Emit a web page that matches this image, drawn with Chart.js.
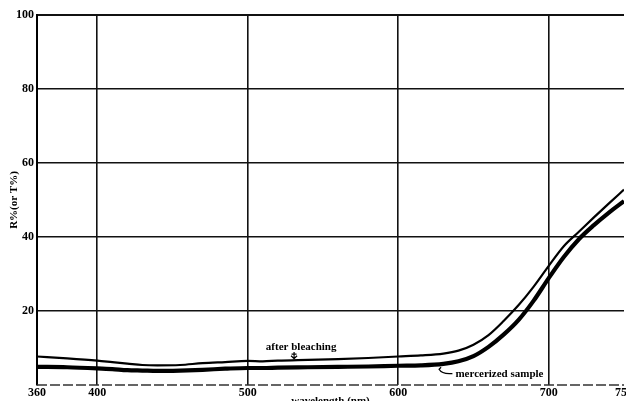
<!DOCTYPE html>
<html>
<head>
<meta charset="utf-8">
<script src="https://cdn.jsdelivr.net/npm/chart.js@4.4.1/dist/chart.umd.min.js"></script>
<style>
  html, body { margin: 0; padding: 0; background: #fff; overflow: hidden; width: 626px; height: 401px; }
  canvas { display: block; }
</style>
</head>
<body>
<canvas id="c" width="650" height="410"></canvas>
<script>
// Spectral curves, R% (or T%) against wavelength in nm
const wavelengths = [360, 380, 400, 410, 420, 430, 440, 455, 470, 485, 500, 510, 520, 540, 560, 580, 600, 615, 630, 640, 650, 660, 670, 680, 690, 700, 710, 720, 730, 740, 750];
const afterBleaching = [7.7, 7.2, 6.6, 6.2, 5.8, 5.4, 5.3, 5.4, 5.9, 6.2, 6.5, 6.4, 6.6, 6.8, 7.0, 7.3, 7.7, 8.0, 8.5, 9.3, 10.9, 13.5, 17.3, 21.6, 26.6, 32.2, 37.5, 41.4, 45.3, 49.1, 52.8];
const mercerized = [4.9, 4.8, 4.5, 4.3, 4.0, 3.9, 3.8, 3.9, 4.1, 4.4, 4.6, 4.6, 4.7, 4.8, 4.9, 5.0, 5.2, 5.3, 5.7, 6.4, 7.8, 10.3, 13.6, 17.6, 22.8, 28.9, 34.6, 39.4, 43.2, 46.6, 49.7];
const xTickValues = [360, 400, 500, 600, 700, 750];
const yTickValues = [0, 20, 40, 60, 80, 100];

const SERIF = '"Liberation Serif", "Times New Roman", serif';

const toPoints = (ys) => wavelengths.map((w, i) => ({ x: w, y: ys[i] }));

// Broken baseline along the wavelength axis
const baseline = {
  id: 'baseline',
  beforeDatasetsDraw(chart) {
    const { ctx, chartArea: a } = chart;
    ctx.save();
    ctx.strokeStyle = '#333';
    ctx.lineWidth = 1.5;
    ctx.setLineDash([10, 3]);
    ctx.beginPath();
    ctx.moveTo(a.left, a.bottom);
    ctx.lineTo(a.right, a.bottom);
    ctx.stroke();
    ctx.restore();
  }
};

// Hand-lettered callouts pointing at each curve
const callouts = {
  id: 'callouts',
  afterDatasetsDraw(chart) {
    const { ctx, scales: { x, y } } = chart;
    ctx.save();
    ctx.fillStyle = '#000';
    ctx.strokeStyle = '#000';
    ctx.font = 'bold 11px ' + SERIF;
    ctx.textBaseline = 'middle';

    // "after bleaching" with a small down arrow
    ctx.textAlign = 'center';
    ctx.fillText('after bleaching', x.getPixelForValue(535.5), y.getPixelForValue(10.3));
    const ax = x.getPixelForValue(530.8);
    const ay0 = y.getPixelForValue(8.9), ay1 = y.getPixelForValue(7.1);
    ctx.lineWidth = 1.2;
    ctx.beginPath();
    ctx.moveTo(ax, ay0); ctx.lineTo(ax, ay1);
    ctx.moveTo(ax - 3, ay1 - 3); ctx.lineTo(ax, ay1); ctx.lineTo(ax + 3, ay1 - 3);
    ctx.moveTo(ax - 2.5, ay0 + 2); ctx.lineTo(ax + 2.5, ay0 + 2);
    ctx.stroke();

    // "mercerized sample" with a curved leader
    ctx.textAlign = 'left';
    ctx.fillText('mercerized sample', x.getPixelForValue(638), y.getPixelForValue(3.0));
    const lx0 = x.getPixelForValue(627.8), ly0 = y.getPixelForValue(4.8);
    const lx1 = x.getPixelForValue(636), ly1 = y.getPixelForValue(3.1);
    ctx.lineWidth = 1.3;
    ctx.beginPath();
    ctx.moveTo(lx0 + 1, ly0);
    ctx.lineTo(lx0 - 1, ly0 + 2);
    ctx.quadraticCurveTo(lx0 + 2, ly1 + 1, lx1, ly1);
    ctx.stroke();
    ctx.restore();
  }
};

new Chart(document.getElementById('c'), {
  type: 'line',
  data: {
    datasets: [
      {
        label: 'after bleaching',
        data: toPoints(afterBleaching),
        borderColor: '#000',
        borderWidth: 2.2,
        pointRadius: 0,
        cubicInterpolationMode: 'monotone',
        fill: false
      },
      {
        label: 'mercerized sample',
        data: toPoints(mercerized),
        borderColor: '#000',
        borderWidth: 4.2,
        pointRadius: 0,
        cubicInterpolationMode: 'monotone',
        fill: false
      }
    ]
  },
  options: {
    responsive: false,
    animation: false,
    devicePixelRatio: 1,
    layout: { padding: { top: 15, right: 26, left: 0, bottom: 0 } },
    plugins: { legend: { display: false }, tooltip: { enabled: false } },
    scales: {
      x: {
        type: 'linear',
        min: 360,
        max: 750,
        afterBuildTicks: (scale) => { scale.ticks = xTickValues.map(v => ({ value: v })); },
        afterFit: (scale) => { scale.height = 25; },
        grid: {
          drawTicks: false,
          lineWidth: 1.6,
          color: (c) => (c.tick && (c.tick.value === 750 || c.tick.value === 360)) ? 'rgba(0,0,0,0)' : '#111'
        },
        border: { display: false },
        ticks: {
          padding: 1,
          color: '#000',
          maxRotation: 0,
          autoSkip: false,
          font: { family: SERIF, size: 12, weight: 'bold' },
          callback: (v) => String(v)
        },
        title: {
          display: true,
          text: 'wavelength (nm)',
          color: '#000',
          font: { family: SERIF, size: 11, weight: 'bold' },
          padding: { top: 0, bottom: 2 }
        }
      },
      y: {
        min: 0,
        max: 100,
        afterBuildTicks: (scale) => { scale.ticks = yTickValues.map(v => ({ value: v })); },
        afterFit: (scale) => { scale.width = 37; },
        grid: {
          drawTicks: false,
          lineWidth: (c) => (c.tick && c.tick.value === 100) ? 2 : 1.6,
          color: (c) => (c.tick && c.tick.value === 0) ? 'rgba(0,0,0,0)' : '#111'
        },
        border: { display: true, color: '#000', width: 2 },
        ticks: {
          padding: 3,
          color: '#000',
          font: { family: SERIF, size: 12, weight: 'bold' },
          callback: (v) => (v === 0 ? '' : String(v))
        },
        title: {
          display: true,
          text: 'R%(or T%)',
          color: '#000',
          font: { family: SERIF, size: 11, weight: 'bold' },
          padding: { top: 8, bottom: 0 }
        }
      }
    }
  },
  plugins: [baseline, callouts]
});
</script>
</body>
</html>
